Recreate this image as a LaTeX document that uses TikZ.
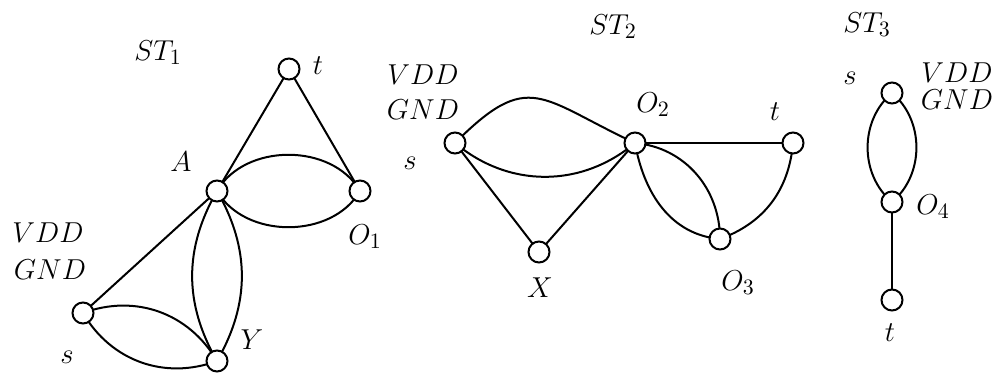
\documentclass[tikz,border=0pt]{standalone}
\usetikzlibrary{backgrounds}
\begin{document}
\begin{tikzpicture}[x=0.5pt,y=0.5pt,
  vtx/.style={circle,draw,fill=white,line width=1pt,minimum size=10.5pt,inner sep=0pt},
  lbl/.style={font=\fontsize{15}{18}\selectfont,inner sep=0pt},
  edge/.style={line width=1pt},
  thinedge/.style={line width=0.6pt}]
\useasboundingbox (0,0) rectangle (1001,374);
% ---- ST1 ----
\node[vtx] (t1) at (289,305) {};
\node[vtx] (A) at (217,183) {};
\node[vtx] (O1) at (360,183) {};
\node[vtx] (s1) at (83,61) {};
\node[vtx] (Y) at (217,13) {};
\node[lbl] (lST1) at (158,321) {$ST_1$};
\node[lbl] (lt1) at (318,308) {$t$};
\node[lbl] (lA) at (181,212) {$A$};
\node[lbl] (lO1) at (365,137) {$O_1$};
\node[lbl] (lV1) at (48,141) {$VDD$};
\node[lbl] (lG1) at (50,104) {$GND$};
\node[lbl] (ls1) at (67,17) {$s$};
\node[lbl] (lY) at (252,34) {$Y$};
% ---- ST2 ----
\node[vtx] (s2) at (455,231) {};
\node[vtx] (O2) at (635,231) {};
\node[vtx] (t2) at (793,231) {};
\node[vtx] (X) at (539,122) {};
\node[vtx] (O3) at (720,135) {};
\node[lbl] (lST2) at (613,347) {$ST_2$};
\node[lbl] (lV2) at (423,299) {$VDD$};
\node[lbl] (lG2) at (423,264) {$GND$};
\node[lbl] (ls2) at (410,211) {$s$};
\node[lbl] (lO2) at (653,269) {$O_2$};
\node[lbl] (lt2) at (775,262) {$t$};
\node[lbl] (lX) at (540,86) {$X$};
\node[lbl] (lO3) at (738,91) {$O_3$};
% ---- ST3 ----
\node[vtx] (s3) at (892,281) {};
\node[vtx] (O4) at (892,172) {};
\node[vtx] (t3) at (892,74) {};
\node[lbl] (lST3) at (867,349) {$ST_3$};
\node[lbl] (ls3) at (850,296) {$s$};
\node[lbl] (lV3) at (957,301) {$VDD$};
\node[lbl] (lG3) at (957,274) {$GND$};
\node[lbl] (lO4) at (933,167) {$O_4$};
\node[lbl] (lt3) at (890,41) {$t$};
% ---- edges ----
\begin{scope}[on background layer]
\draw[edge] (t1.center) -- (A.center);
\draw[edge] (t1.center) -- (O1.center);
\draw[edge] (A.center) to[bend left=60] (O1.center);
\draw[edge] (A.center) to[bend right=60] (O1.center);
\draw[edge] (A.center) to[bend left=30] (Y.center);
\draw[edge] (A.center) to[bend right=30] (Y.center);
\draw[edge] (s1.center) -- (A.center);
\draw[edge] (s1.center) to[bend left=40] (Y.center);
\draw[edge] (s1.center) to[bend right=40] (Y.center);
\draw[edge] (s2.center) to[out=45,in=155,looseness=1.5] (O2.center);
\draw[edge] (s2.center) to[bend right=40] (O2.center);
\draw[edge] (s2.center) -- (X.center);
\draw[edge] (X.center) -- (O2.center);
\draw[thinedge] (O2.center) -- (t2.center);
\draw[edge] (O2.center) to[out=-5,in=90] (O3.center);
\draw[edge] (O2.center) to[out=-80,in=175] (O3.center);
\draw[edge] (O3.center) to[out=20,in=-95] (t2.center);
\draw[edge] (s3.center) to[bend left=50] (O4.center);
\draw[edge] (s3.center) to[bend right=50] (O4.center);
\draw[edge] (O4.center) -- (t3.center);
\end{scope}
\end{tikzpicture}
\end{document}
